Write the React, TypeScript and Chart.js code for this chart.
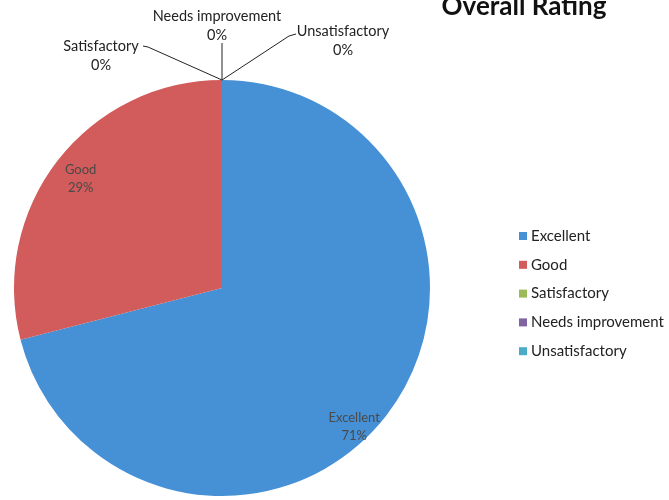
import React, { useEffect, useRef } from "react";
import { Chart, registerables } from "chart.js";

Chart.register(...registerables);

const categories = ["Excellent", "Good", "Satisfactory", "Needs improvement", "Unsatisfactory"];
const values = [71, 29, 0, 0, 0];
const colors = ["#4690d6", "#d25b5b", "#9bbb59", "#8064a2", "#4bacc6"];
const titleText = "Overall Rating";

const FONT = "Lato, 'Open Sans', sans-serif";

// label placement styles (offsets relative to the slice anchor)
const insideShiftDeg = [8.5, 0];
const insideFactor = [0.92, 0.86];
const outerOffsets: Record<number, { tx: number; ty: number; lx: number; ly: number; hx: number }> = {
  2: { tx: -121, ty: -34, lx: -74, ly: -33, hx: -5 },
  3: { tx: -5, ty: -64, lx: 0, ly: -37, hx: 0 },
  4: { tx: 121, ty: -49, lx: 67, ly: -44, hx: 7 },
};

const labelPlugin = {
  id: "customLabels",
  afterDraw(chart: any) {
    const ctx = chart.ctx as CanvasRenderingContext2D;
    const meta = chart.getDatasetMeta(0);
    const data = chart.data.datasets[0].data as number[];
    const total = data.reduce((a, b) => a + b, 0);
    ctx.save();

    // Title
    ctx.fillStyle = "#111";
    ctx.font = `bold 26px ${FONT}`;
    ctx.textAlign = "center";
    ctx.textBaseline = "alphabetic";
    ctx.fillText(titleText, 524, 15);

    // Slice labels
    meta.data.forEach((arc: any, i: number) => {
      const v = data[i];
      const pct = Math.round((v / total) * 100) + "%";
      const r = arc.outerRadius;
      if (v > 0) {
        const mid = (arc.startAngle + arc.endAngle) / 2 + ((insideShiftDeg[i] || 0) * Math.PI) / 180;
        const f = insideFactor[i] || 0.85;
        const px = arc.x + Math.cos(mid) * r * f;
        const py = arc.y + Math.sin(mid) * r * f;
        ctx.fillStyle = "#4a4a4a";
        ctx.font = `13px ${FONT}`;
        ctx.textAlign = "center";
        ctx.textBaseline = "middle";
        ctx.fillText(categories[i], px, py - 9);
        ctx.fillText(pct, px, py + 9);
      } else {
        const o = outerOffsets[i];
        if (!o) return;
        const ax = arc.x + Math.cos(arc.startAngle) * r;
        const ay = arc.y + Math.sin(arc.startAngle) * r;
        ctx.strokeStyle = "#222";
        ctx.lineWidth = 1;
        ctx.beginPath();
        ctx.moveTo(ax, ay);
        ctx.lineTo(ax + o.lx, ay + o.ly);
        if (o.hx) ctx.lineTo(ax + o.lx + o.hx, ay + o.ly - (o.hx > 0 ? 2 : 1));
        ctx.stroke();
        ctx.fillStyle = "#222";
        ctx.font = `14.5px ${FONT}`;
        ctx.textAlign = "center";
        ctx.textBaseline = "middle";
        ctx.fillText(categories[i], ax + o.tx, ay + o.ty);
        ctx.fillText(pct, ax + o.tx, ay + o.ty + 19);
      }
    });

    // Legend
    const lx = 519;
    const ly0 = 236;
    const step = 28.8;
    categories.forEach((c, i) => {
      const y = ly0 + i * step;
      ctx.fillStyle = colors[i];
      ctx.fillRect(lx, y - 4, 8, 8);
      ctx.fillStyle = "#222";
      ctx.font = `15px ${FONT}`;
      ctx.textAlign = "left";
      ctx.textBaseline = "middle";
      ctx.fillText(c, lx + 12, y);
    });
    ctx.restore();
  },
};

export default function App() {
  const ref = useRef<HTMLCanvasElement | null>(null);
  useEffect(() => {
    document.body.style.margin = "0";
    const chart = new Chart(ref.current as HTMLCanvasElement, {
      type: "pie",
      data: {
        labels: categories,
        datasets: [
          {
            data: values,
            backgroundColor: colors,
            borderWidth: 0,
          },
        ],
      },
      options: {
        animation: false,
        responsive: false,
        layout: { padding: { left: 14, right: 239, top: 80, bottom: 4 } },
        plugins: {
          legend: { display: false },
          tooltip: { enabled: false },
          title: { display: false },
        },
      },
      plugins: [labelPlugin],
    });
    return () => chart.destroy();
  }, []);
  return <canvas ref={ref} width={669} height={500} style={{ display: "block" }} />;
}
